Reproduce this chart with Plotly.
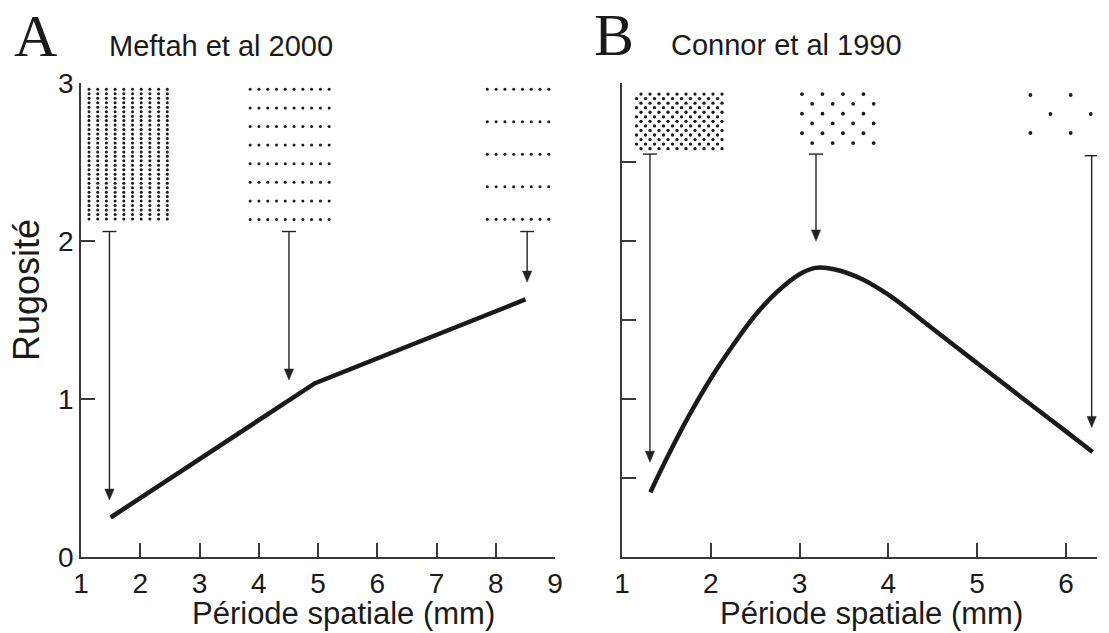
import plotly.graph_objects as go

W, H = 1109, 633

# ---------------- data ----------------
# Panel A : Meftah et al 2000
a_x = [1.5, 4.95, 8.5]
a_y = [0.25, 1.10, 1.63]
a_xticks = [1, 2, 3, 4, 5, 6, 7, 8, 9]
a_yticks = [0, 1, 2, 3]
a_arrow_x = [1.48, 4.51, 8.53]
a_arrow_top = [2.06, 2.06, 2.06]
a_arrow_tip = [0.36, 1.12, 1.74]

# Panel B : Connor et al 1990
b_x = [1.32, 1.5, 1.75, 2.0, 2.25, 2.5, 2.75, 3.0, 3.18, 3.4, 3.7, 4.0, 4.5, 5.0, 5.5, 6.0, 6.3]
b_y = [0.41, 0.62, 0.89, 1.13, 1.34, 1.53, 1.68, 1.79, 1.83, 1.82, 1.76, 1.66, 1.445, 1.227, 1.01, 0.795, 0.665]
b_xticks = [1, 2, 3, 4, 5, 6]
b_yticks = [0, 0.5, 1, 1.5, 2, 2.5, 3]
b_arrow_x = [1.315, 3.185, 6.29]
b_arrow_top = [2.55, 2.55, 2.54]
b_arrow_tip = [0.60, 2.00, 0.82]

# ---------------- layout geometry ----------------
A_XR, A_YR = [1, 9], [0, 3]
B_XR, B_YR = [1, 6.35], [0, 3]
A_DOM_X = [81 / W, 555 / W]
B_DOM_X = [622 / W, 1097 / W]
DOM_Y = [76 / H, 550 / H]

INK = "#1a1a1a"
AX = "#383838"
FONT = "Liberation Sans, Arial, sans-serif"


def px_scale(xr, domx):
    kx = (domx[1] - domx[0]) * W / (xr[1] - xr[0])
    ky = (DOM_Y[1] - DOM_Y[0]) * H / (A_YR[1] - A_YR[0])
    return kx, ky


fig = go.Figure()

# ---------------- dot textures (stimulus illustrations) ----------------
# spec: (panel, x0, y0, ncols, nrows, dx_px, dy_px, stagger_px, size)
textures = [
    ("a", 1.135, 2.96, 10, 30, 8.7, 4.47, 0.0, 3.0),
    ("a", 3.855, 2.96, 10, 8, 8.78, 18.6, 0.0, 3.0),
    ("a", 7.858, 2.96, 10, 5, 8.78, 32.5, 0.0, 3.0),
    ("b", 1.214, 2.93, 10, 13, 9.0, 4.55, -4.5, 3.3),
    ("b", 3.027, 2.93, 4, 6, 20.5, 9.8, 10.2, 3.8),
    ("b", 5.600, 2.924, 3, 3, 40.3, 19.0, 20.0, 3.8),
]
for panel, x0, y0, nc, nr, dxp, dyp, stp, sz in textures:
    if panel == "a":
        kx, ky = px_scale(A_XR, A_DOM_X)
        xa, ya = "x", "y"
    else:
        kx, ky = px_scale(B_XR, B_DOM_X)
        xa, ya = "x2", "y2"
    xs, ys = [], []
    for r in range(nr):
        off = (stp / kx) if (r % 2 == 1) else 0.0
        for c in range(nc):
            xs.append(x0 + off + c * dxp / kx)
            ys.append(y0 - r * dyp / ky)
    fig.add_trace(go.Scatter(x=xs, y=ys, mode="markers", xaxis=xa, yaxis=ya,
                             marker=dict(size=sz, color=INK, line=dict(width=0)),
                             cliponaxis=False, hoverinfo="skip"))

# ---------------- arrows ----------------
def add_arrows(xs, tops, tips, xr, domx, xa, ya):
    kx, ky = px_scale(xr, domx)
    cap_hw = 7 / kx
    head_hw = 4.6 / kx
    head_h = 11 / ky
    sx, sy = [], []
    for x, t, p in zip(xs, tops, tips):
        sx += [x, x, None, x - cap_hw, x + cap_hw, None]
        sy += [t, p + head_h * 0.6, None, t, t, None]
    fig.add_trace(go.Scatter(x=sx, y=sy, mode="lines", xaxis=xa, yaxis=ya,
                             line=dict(color="#222222", width=1.4),
                             cliponaxis=False, hoverinfo="skip"))
    for x, t, p in zip(xs, tops, tips):
        fig.add_trace(go.Scatter(x=[x - head_hw, x + head_hw, x, x - head_hw],
                                 y=[p + head_h, p + head_h, p, p + head_h],
                                 mode="lines", fill="toself", fillcolor="#222222",
                                 line=dict(color="#222222", width=0.5),
                                 xaxis=xa, yaxis=ya, cliponaxis=False, hoverinfo="skip"))


add_arrows(a_arrow_x, a_arrow_top, a_arrow_tip, A_XR, A_DOM_X, "x", "y")
add_arrows(b_arrow_x, b_arrow_top, b_arrow_tip, B_XR, B_DOM_X, "x2", "y2")

# ---------------- curves ----------------
fig.add_trace(go.Scatter(x=a_x, y=a_y, mode="lines", xaxis="x", yaxis="y",
                         line=dict(color=INK, width=4.5), hoverinfo="skip"))
fig.add_trace(go.Scatter(x=b_x, y=b_y, mode="lines", xaxis="x2", yaxis="y2",
                         line=dict(color=INK, width=4.5, shape="spline", smoothing=1.0),
                         hoverinfo="skip"))

# ---------------- axes ----------------
common = dict(showgrid=False, zeroline=False, showline=True, linecolor=AX, linewidth=1.8,
              ticks="inside", ticklen=14, tickwidth=1.6, tickcolor=AX, automargin=False,
              tickfont=dict(family=FONT, size=28, color=INK), fixedrange=True)

fig.update_layout(
    width=W, height=H,
    margin=dict(l=0, r=0, t=0, b=0, autoexpand=False),
    paper_bgcolor="white", plot_bgcolor="white",
    showlegend=False,
    xaxis=dict(domain=A_DOM_X, range=A_XR, tickvals=a_xticks, anchor="y", **common),
    yaxis=dict(domain=DOM_Y, range=A_YR, tickvals=a_yticks, anchor="x", **common),
    xaxis2=dict(domain=B_DOM_X, range=B_XR, tickvals=b_xticks, anchor="y2", **common),
    yaxis2=dict(domain=DOM_Y, range=B_YR, tickvals=b_yticks, anchor="x2",
                showticklabels=False, **common),
)

# ---------------- text ----------------
def ann(text, xpx, ypx, size, family=FONT, angle=0, xanchor="center"):
    fig.add_annotation(text=text, x=xpx / W, y=1 - ypx / H, xref="paper", yref="paper",
                       xanchor=xanchor, yanchor="middle", showarrow=False, textangle=angle,
                       font=dict(family=family, size=size, color=INK))


SERIF = "Liberation Serif, Times New Roman, serif"
ann("A", 12, 36, 60, family=SERIF, xanchor="left")
ann("Meftah et al 2000", 107, 46, 29, xanchor="left")
ann("B", 592, 35, 60, family=SERIF, xanchor="left")
ann("Connor et al 1990", 669, 45, 29, xanchor="left")
ann("Période spatiale (mm)", 343, 613, 31)
ann("Période spatiale (mm)", 871, 613, 31)
ann("Rugosité", 27, 290, 36, angle=-90)

fig.write_html("out.html")
